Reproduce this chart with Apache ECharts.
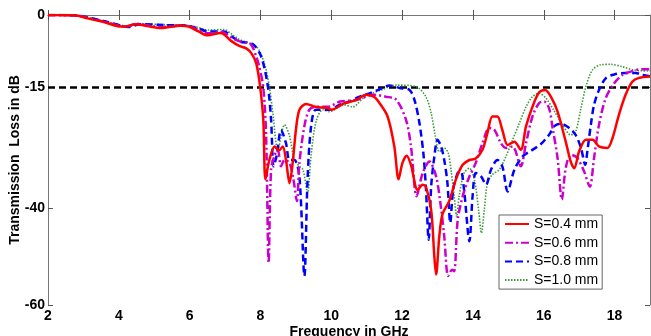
<!DOCTYPE html>
<html><head><meta charset="utf-8">
<script src="https://cdn.jsdelivr.net/npm/echarts@6/dist/echarts.min.js"></script>
<style>html,body{margin:0;padding:0;background:#fff}#c{width:651px;height:336px}</style>
</head><body><div id="c"></div>
<script>
const xTicks = [2,4,6,8,10,12,14,16,18];
const yTicks = [0,-15,-40,-60];
const seriesNames = ['S=0.4 mm','S=0.6 mm','S=0.8 mm','S=1.0 mm'];
const threshold = [[2,-15],[19,-15]];
const s04 = [[2,0],[2.8,-0.1],[3.12,-0.7],[3.6,-1.5],[4.06,-2.4],[4.17,-2.4],[4.48,-1.9],[4.8,-2.3],[5.19,-2.7],[5.75,-2.2],[5.97,-2.4],[6.25,-3.4],[6.5,-4.2],[6.88,-3.7],[7.16,-5.3],[7.4,-6.4],[7.6,-6.9],[7.75,-8.0],[7.88,-10],[7.99,-14.8],[8.08,-21.7],[8.14,-34],[8.25,-30],[8.4,-27.2],[8.52,-28],[8.63,-27.2],[8.72,-30],[8.82,-34.8],[8.91,-30.6],[9.0,-23.8],[9.1,-19.6],[9.29,-18.4],[9.55,-19],[9.9,-19.3],[10.0,-19.6],[10.36,-18.3],[10.7,-17.6],[10.98,-16.5],[11.2,-16.9],[11.36,-18.2],[11.59,-21],[11.78,-27.2],[11.9,-34],[12.01,-30.6],[12.13,-29.1],[12.25,-31],[12.44,-36.2],[12.58,-35.1],[12.67,-35.5],[12.82,-40.3],[12.91,-50],[12.96,-53.7],[13.05,-45.8],[13.14,-41.2],[13.33,-38.5],[13.52,-34],[13.71,-31],[13.9,-30],[14.08,-29.7],[14.27,-27.9],[14.41,-24.4],[14.55,-21],[14.69,-21],[14.83,-23.8],[14.98,-26.9],[15.17,-26.2],[15.35,-27.9],[15.5,-23],[15.68,-19],[15.87,-16],[16.04,-15.5],[16.2,-16.9],[16.39,-20],[16.62,-26.2],[16.76,-30.3],[16.86,-31.7],[17.0,-28.2],[17.19,-25.8],[17.38,-25.8],[17.56,-27.2],[17.8,-27.5],[17.94,-25.5],[18.12,-20.7],[18.31,-16.5],[18.5,-13.8],[18.69,-13],[19,-12.7]];
const s06 = [[2,0],[2.8,-0.1],[3.12,-0.6],[3.6,-1.4],[4.06,-2.3],[4.2,-2.4],[4.5,-1.8],[4.8,-2.1],[5.19,-2.5],[5.75,-2.1],[5.97,-2.3],[6.25,-3.1],[6.5,-3.8],[6.9,-3.5],[7.16,-4.6],[7.43,-5.5],[7.72,-6.0],[7.88,-8.6],[7.96,-10.5],[8.08,-15],[8.16,-25],[8.23,-51.3],[8.3,-32],[8.4,-29],[8.49,-27.9],[8.58,-31.3],[8.68,-30],[8.82,-30.6],[8.93,-34],[9.03,-38.5],[9.1,-30.6],[9.24,-23],[9.38,-19.6],[9.57,-19],[9.9,-19],[10.25,-17.9],[10.7,-17.6],[11.2,-16.5],[11.54,-16.9],[11.83,-17.5],[12.11,-21.7],[12.25,-27.2],[12.41,-37.5],[12.58,-32.7],[12.77,-30.3],[12.96,-33.4],[13.1,-40],[13.19,-45.8],[13.3,-54],[13.41,-52.7],[13.47,-53],[13.57,-42.4],[13.71,-37.5],[13.9,-33.4],[14.08,-30.6],[14.27,-26.5],[14.46,-23.4],[14.6,-23.7],[14.79,-26.5],[14.93,-27.5],[15.12,-27.2],[15.35,-31.3],[15.5,-26.5],[15.68,-21],[15.87,-18.2],[16.01,-17.9],[16.15,-19.3],[16.25,-23.4],[16.39,-29.6],[16.51,-38.2],[16.62,-31.7],[16.76,-28.9],[16.95,-29.6],[17.14,-32.4],[17.3,-35.5],[17.42,-29.6],[17.56,-22.7],[17.75,-17.2],[17.99,-14.1],[18.22,-12.4],[18.5,-11.6],[18.78,-11.2],[19,-11.2]];
const s08 = [[2,0],[2.8,-0.1],[3.12,-0.5],[3.6,-1.3],[4.06,-2.2],[4.26,-2.5],[4.6,-1.9],[5.3,-2.1],[5.9,-2.2],[6.25,-2.8],[6.5,-3.4],[6.96,-3.4],[7.2,-4.5],[7.41,-5.5],[7.78,-6.0],[8.02,-8.6],[8.21,-14.8],[8.3,-21.7],[8.37,-31.3],[8.46,-29],[8.58,-23.8],[8.72,-26.5],[8.82,-30],[8.96,-30],[9.1,-33.4],[9.24,-54],[9.33,-34],[9.43,-23],[9.57,-19.6],[9.95,-19.6],[10.23,-18.6],[10.51,-17.9],[10.8,-16.9],[11.08,-16.2],[11.36,-15.4],[11.64,-14.6],[11.93,-15.1],[12.21,-15.5],[12.35,-17.6],[12.49,-22.4],[12.6,-28.6],[12.67,-35.5],[12.75,-46.5],[12.82,-35.5],[12.91,-29.3],[13.0,-25.8],[13.1,-27.2],[13.19,-30],[13.28,-34.8],[13.36,-43],[13.44,-36.2],[13.57,-32.7],[13.66,-32.4],[13.75,-36.2],[13.9,-46.8],[13.99,-37.5],[14.08,-32.7],[14.23,-33.4],[14.37,-35.1],[14.51,-32],[14.69,-30],[14.83,-31.3],[14.98,-36.5],[15.17,-32],[15.4,-29.3],[15.68,-27.9],[15.92,-26.7],[16.15,-24.8],[16.3,-23],[16.48,-22.5],[16.72,-23.4],[16.9,-24.8],[17.05,-27.5],[17.17,-31],[17.23,-28.2],[17.33,-22.7],[17.42,-18.6],[17.56,-15.5],[17.75,-13.1],[17.99,-12.3],[18.31,-12],[18.6,-12],[18.78,-12.4],[19,-12.7]];
const s10 = [[2,0],[2.8,-0.1],[3.12,-0.5],[3.6,-1.3],[4.06,-2.1],[4.26,-2.4],[4.6,-1.8],[5.3,-2.0],[5.9,-2.1],[6.25,-2.6],[6.5,-3.1],[6.96,-3.0],[7.2,-4.0],[7.41,-5.1],[7.88,-6.5],[8.11,-10],[8.25,-14.8],[8.35,-20.3],[8.49,-27.9],[8.68,-22.7],[8.82,-25],[8.96,-30],[9.1,-31.3],[9.2,-32],[9.33,-36.8],[9.43,-29],[9.57,-22],[9.76,-19.6],[9.95,-20],[10.36,-18.6],[10.6,-19],[10.95,-16.9],[11.42,-15.5],[11.83,-14.5],[12.39,-14.8],[12.67,-16.9],[12.82,-20.3],[12.94,-25.1],[13.05,-28.3],[13.19,-27.5],[13.3,-28.5],[13.38,-32],[13.47,-37.5],[13.54,-41.7],[13.61,-37.5],[13.75,-32.7],[13.9,-31.7],[14.04,-34],[14.16,-40.3],[14.24,-45.1],[14.32,-40.3],[14.41,-34.8],[14.55,-33],[14.74,-32],[14.93,-29.3],[15.12,-25.8],[15.31,-22.4],[15.5,-19],[15.68,-16.9],[15.87,-16.2],[16.06,-17.2],[16.29,-19.8],[16.53,-22.7],[16.76,-24.8],[16.9,-24.1],[17.05,-19.3],[17.19,-14.8],[17.37,-11.4],[17.61,-10.3],[17.89,-10.2],[18.22,-10.7],[18.55,-11.4],[19,-11.6]];

const FONT = 'Arial, "Liberation Sans", sans-serif';
const chart = echarts.init(document.getElementById('c'), null, {renderer:'canvas'});
const axisLine = {show:true, lineStyle:{color:'#777', width:1}};
const tickIn = (vals) => ({show:true, inside:true, length:5, lineStyle:{color:'#555'}, customValues: vals});
function line(name, data, color, width, type, z){
  return {name, type:'line', data, showSymbol:false, symbol:'none', smooth:0.3, z,
    lineStyle:{color, width, type}, itemStyle:{color}, clip:true};
}
chart.setOption({
  animation:false,
  backgroundColor:'#fff',
  textStyle:{fontFamily:FONT},
  grid:{left:48, right:1, top:15, bottom:31, containLabel:false, outerBoundsMode:'none'},
  xAxis:[{
    type:'value', min:2, max:19, interval:1,
    axisLine, axisTick:tickIn(xTicks), splitLine:{show:false},
    axisLabel:{customValues:xTicks, color:'#000', fontWeight:'bold', fontSize:14, fontFamily:FONT, margin:4},
    name:'Frequency in GHz', nameLocation:'middle', nameGap:20, nameMoveOverlap:false,
    nameTextStyle:{color:'#000', fontWeight:'bold', fontSize:14, fontFamily:FONT}
  },{
    type:'value', min:2, max:19, interval:1, position:'top',
    axisLine, axisTick:tickIn(xTicks), axisLabel:{show:false}, splitLine:{show:false}
  }],
  yAxis:[{
    type:'value', min:-60, max:0, interval:5,
    axisLine, axisTick:tickIn(yTicks), splitLine:{show:false},
    axisLabel:{customValues:yTicks, color:'#000', fontWeight:'bold', fontSize:14, fontFamily:FONT, margin:3},
    name:'Transmission  Loss in dB', nameLocation:'middle', nameGap:26, nameRotate:90, nameMoveOverlap:false,
    nameTextStyle:{color:'#000', fontWeight:'bold', fontSize:14, fontFamily:FONT, whiteSpace:'pre'}
  },{
    type:'value', min:-60, max:0, interval:5, position:'right',
    axisLine, axisTick:tickIn(yTicks), axisLabel:{show:false}, splitLine:{show:false}
  }],
  legend:{
    data:seriesNames, orient:'vertical', left:499, top:215,
    backgroundColor:'#fff', borderColor:'#666', borderWidth:1, borderRadius:0,
    padding:[2,4,2,5], itemWidth:24, itemHeight:12, itemGap:4.7,
    itemStyle:{opacity:0},
    textStyle:{color:'#000', fontSize:14, lineHeight:14, fontFamily:FONT}
  },
  series:[
    {name:'threshold', type:'line', data:threshold, showSymbol:false, symbol:'none', z:1,
     lineStyle:{color:'#000', width:2.5, type:[7,4]}, silent:true},
    line(seriesNames[3], s10, '#3a9a3a', 1.6, [1.5,1.5], 2),
    line(seriesNames[2], s08, '#0000ff', 2.5, [7,4], 3),
    line(seriesNames[1], s06, '#cc00cc', 2.5, [8,3,2,3], 4),
    line(seriesNames[0], s04, '#ff0000', 2.5, 'solid', 5)
  ]
});
</script></body></html>
